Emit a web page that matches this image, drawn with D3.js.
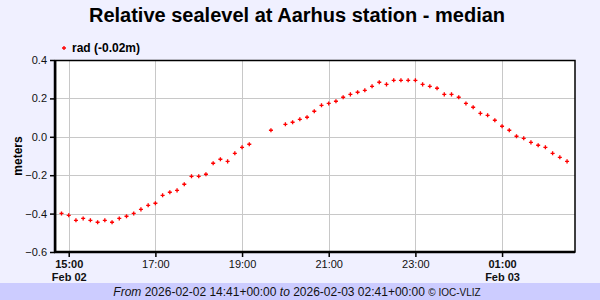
<!DOCTYPE html>
<html>
<head>
<meta charset="utf-8">
<script src="https://cdn.jsdelivr.net/npm/d3@7"></script>
<style>
  body { margin: 0; background: #f0f0ff; }
  svg { display: block; font-family: Arial, "Liberation Sans", sans-serif; }
</style>
</head>
<body>
<div id="vis"></div>
<script>
// chart data, 10 minute medians (null = no data)
const START_TIME = "2026-02-02T14:41:00Z";
const END_TIME = "2026-02-03T02:41:00Z";
const FIRST_POINT = "2026-02-02T14:50:00Z";
const SEALEVEL = [
  -0.399, -0.409, -0.435, -0.425, -0.435, -0.445, -0.435, -0.445, -0.425, -0.414,
  -0.399, -0.378, -0.357, -0.346, -0.305, -0.289, -0.279, -0.247, -0.206, -0.206,
  -0.195, -0.138, -0.117, -0.128, -0.086, -0.055, -0.039, null, null, 0.034,
  null, 0.065, 0.076, 0.091, 0.102, 0.133, 0.164, 0.174, 0.185, 0.206,
  0.221, 0.232, 0.242, 0.263, 0.284, 0.273, 0.294, 0.294, 0.294, 0.294,
  0.273, 0.263, 0.253, 0.221, 0.221, 0.206, 0.174, 0.154, 0.122, 0.112,
  0.086, 0.055, 0.034, 0.003, -0.008, -0.029, -0.044, -0.055, -0.086, -0.107,
  -0.128
];
const Y_TICKS = [-0.6, -0.4, -0.2, 0.0, 0.2, 0.4];
const X_TICKS = ["2026-02-02T15:00:00Z", "2026-02-02T17:00:00Z", "2026-02-02T19:00:00Z",
                 "2026-02-02T21:00:00Z", "2026-02-02T23:00:00Z", "2026-02-03T01:00:00Z"];
const DATE_LABELS = {"15:00": "Feb 02", "01:00": "Feb 03"};

const FRAME_WIDTH = 600;
const FRAME_HEIGHT = 300;
const MARGINS = {left: 55, right: 25, top: 60, bottom: 48};
const VIS_WIDTH = FRAME_WIDTH - MARGINS.left - MARGINS.right;
const VIS_HEIGHT = FRAME_HEIGHT - MARGINS.top - MARGINS.bottom;

const FRAME = d3.select("#vis")
  .append("svg")
    .attr("width", FRAME_WIDTH)
    .attr("height", FRAME_HEIGHT);

FRAME.append("rect")
  .attr("width", FRAME_WIDTH).attr("height", FRAME_HEIGHT)
  .attr("fill", "#f0f0ff");

// footer band
FRAME.append("rect")
  .attr("x", 0).attr("y", 283)
  .attr("width", FRAME_WIDTH).attr("height", 17)
  .attr("fill", "#ccccff");

const data = SEALEVEL.map((v, i) => ({
  t: new Date(new Date(FIRST_POINT).getTime() + i * 600000),
  v: v
})).filter(d => d.v !== null);

const X_SCALE = d3.scaleUtc()
  .domain([new Date(START_TIME), new Date(END_TIME)])
  .range([0, VIS_WIDTH]);
const Y_SCALE = d3.scaleLinear()
  .domain([-0.6, 0.4])
  .range([VIS_HEIGHT, 0]);

const g = FRAME.append("g")
  .attr("transform", "translate(" + MARGINS.left + "," + MARGINS.top + ")");

g.append("rect")
  .attr("width", VIS_WIDTH).attr("height", VIS_HEIGHT)
  .attr("fill", "white");

// grid
g.selectAll(".hgrid")
  .data(Y_TICKS)
  .enter().append("line")
    .attr("x1", 0).attr("x2", VIS_WIDTH)
    .attr("y1", d => Math.round(Y_SCALE(d)) + 0.5)
    .attr("y2", d => Math.round(Y_SCALE(d)) + 0.5)
    .attr("stroke", "#c8c8c8");
g.selectAll(".vgrid")
  .data(X_TICKS)
  .enter().append("line")
    .attr("y1", 0).attr("y2", VIS_HEIGHT)
    .attr("x1", d => Math.round(X_SCALE(new Date(d))) + 0.5)
    .attr("x2", d => Math.round(X_SCALE(new Date(d))) + 0.5)
    .attr("stroke", "#c8c8c8");

// points
g.selectAll(".pt")
  .data(data)
  .enter().append("path")
    .attr("d", d3.symbol(d3.symbolCross, 9))
    .attr("transform", d => "translate(" + X_SCALE(d.t) + "," + Y_SCALE(d.v) + ")")
    .attr("fill", "red");

// frame border
g.append("rect")
  .attr("x", 0.5).attr("y", 0.5)
  .attr("width", VIS_WIDTH - 0.5).attr("height", VIS_HEIGHT - 0.5)
  .attr("fill", "none")
  .attr("stroke", "black")
  .attr("stroke-width", 1.5);
g.append("line")
  .attr("x1", 0).attr("x2", 0).attr("y1", 0).attr("y2", VIS_HEIGHT + 1)
  .attr("stroke", "black").attr("stroke-width", 2.5);
g.append("line")
  .attr("x1", -1).attr("x2", VIS_WIDTH).attr("y1", VIS_HEIGHT).attr("y2", VIS_HEIGHT)
  .attr("stroke", "black").attr("stroke-width", 2.5);

// y axis
const yAxis = g.append("g")
  .call(d3.axisLeft(Y_SCALE).tickValues(Y_TICKS).tickFormat(d3.format(".1f")).tickSize(5).tickSizeOuter(0));
yAxis.select(".domain").remove();
yAxis.selectAll("line").attr("stroke", "black").attr("stroke-width", 1.5);
yAxis.selectAll("text")
  .attr("font-size", "11px")
  .attr("font-family", "Arial, 'Liberation Sans', sans-serif")
  .attr("fill", "#111");

// x axis
const xAxis = g.append("g")
  .attr("transform", "translate(0," + VIS_HEIGHT + ")")
  .call(d3.axisBottom(X_SCALE).tickValues(X_TICKS.map(d => new Date(d)))
    .tickFormat(d3.utcFormat("%H:%M")).tickSize(5).tickSizeOuter(0));
xAxis.select(".domain").remove();
xAxis.selectAll("line").attr("stroke", "black").attr("stroke-width", 1.5);
xAxis.selectAll("text")
  .attr("font-size", "11px")
  .attr("font-family", "Arial, 'Liberation Sans', sans-serif")
  .attr("fill", "#111")
  .attr("font-weight", d => DATE_LABELS[d3.utcFormat("%H:%M")(d)] ? "bold" : "normal");
xAxis.selectAll(".tick")
  .filter(d => DATE_LABELS[d3.utcFormat("%H:%M")(d)])
  .append("text")
    .attr("y", 21)
    .attr("dy", "0.71em")
    .attr("fill", "#111")
    .attr("font-size", "11px")
    .attr("font-weight", "bold")
    .attr("font-family", "Arial, 'Liberation Sans', sans-serif")
    .text(d => DATE_LABELS[d3.utcFormat("%H:%M")(d)]);

// y label
FRAME.append("text")
  .attr("transform", "translate(22," + (MARGINS.top + VIS_HEIGHT / 2) + ") rotate(-90)")
  .attr("text-anchor", "middle")
  .attr("font-size", "12px")
  .attr("font-weight", "bold")
  .text("meters");

// title
FRAME.append("text")
  .attr("x", 297).attr("y", 22)
  .attr("text-anchor", "middle")
  .attr("font-size", "20px")
  .attr("font-weight", "bold")
  .text("Relative sealevel at Aarhus station - median");

// legend
FRAME.append("path")
  .attr("d", d3.symbol(d3.symbolCross, 9))
  .attr("transform", "translate(64,48)")
  .attr("fill", "red");
FRAME.append("text")
  .attr("x", 72).attr("y", 52)
  .attr("font-size", "12px")
  .attr("font-weight", "bold")
  .text("rad (-0.02m)");

// footer
const foot = FRAME.append("text")
  .attr("x", 297).attr("y", 296)
  .attr("text-anchor", "middle")
  .attr("font-size", "12px")
  .attr("fill", "#111");
foot.append("tspan").attr("font-style", "italic").text("From ");
foot.append("tspan").text("2026-02-02 14:41+00:00 ");
foot.append("tspan").attr("font-style", "italic").text("to ");
foot.append("tspan").text("2026-02-03 02:41+00:00 ");
foot.append("tspan").attr("font-size", "10px").text("© IOC-VLIZ");
</script>
</body>
</html>
